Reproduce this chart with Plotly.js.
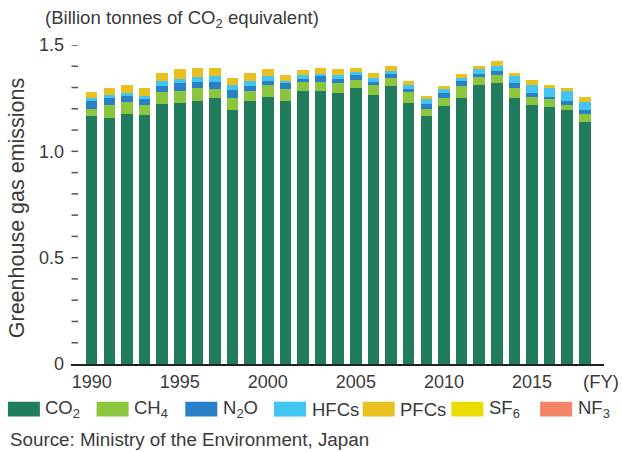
<!DOCTYPE html>
<html>
<head>
<meta charset="utf-8">
<script src="https://cdn.plot.ly/plotly-3.0.1.min.js"></script>
<style>html,body{margin:0;padding:0;background:#fff;}#chart{width:622px;height:452px;}</style>
</head>
<body>
<div id="chart"></div>
<script>
// Fiscal years
const years = [1990,1991,1992,1993,1994,1995,1996,1997,1998,1999,2000,2001,2002,2003,2004,2005,2006,2007,2008,2009,2010,2011,2012,2013,2014,2015,2016,2017,2018];
// Emissions, billion tonnes CO2 equivalent
const co2  = [1.164,1.155,1.174,1.169,1.221,1.225,1.239,1.249,1.193,1.239,1.254,1.239,1.282,1.286,1.272,1.296,1.263,1.305,1.225,1.164,1.211,1.249,1.310,1.319,1.249,1.216,1.207,1.193,1.136];
const ch4  = [0.033,0.061,0.056,0.047,0.056,0.061,0.061,0.042,0.056,0.047,0.056,0.056,0.042,0.038,0.047,0.038,0.047,0.042,0.052,0.033,0.038,0.056,0.038,0.038,0.047,0.038,0.038,0.023,0.038];
const n2o  = [0.042,0.033,0.028,0.028,0.028,0.033,0.028,0.033,0.038,0.019,0.019,0.024,0.014,0.028,0.023,0.024,0.014,0.019,0.014,0.024,0.024,0.024,0.014,0.019,0.024,0.019,0.009,0.023,0.019];
const hfcs = [0.014,0.014,0.014,0.014,0.024,0.023,0.023,0.028,0.024,0.024,0.023,0.014,0.019,0.014,0.019,0.014,0.019,0.014,0.019,0.024,0.019,0.014,0.024,0.024,0.033,0.038,0.042,0.047,0.038];
const pfcs = [0.024,0.033,0.038,0.042,0.038,0.047,0.042,0.038,0.033,0.038,0.033,0.024,0.024,0.024,0.024,0.019,0.024,0.019,0.019,0.014,0.014,0.019,0.014,0.024,0.014,0.023,0.014,0.014,0.023];
const sf6  = years.map(() => 0);
const nf3  = years.map(() => 0);

const seriesNames = ['CO<sub>2</sub>','CH<sub>4</sub>','N<sub>2</sub>O','HFCs','PFCs','SF<sub>6</sub>','NF<sub>3</sub>'];
const seriesData = [co2, ch4, n2o, hfcs, pfcs, sf6, nf3];
const colors = ['#217c5e','#8cc63e','#2a80c6','#42c5f1','#e8c120','#eadc00','#f38467'];

// y tick marks every 0.1, labelled every 0.5
const yMarkVals = [0.1,0.2,0.3,0.4,0.5,0.6,0.7,0.8,0.9,1.0,1.1,1.2,1.3,1.4,1.5];
const yTickVals = [0, 0.5, 1.0, 1.5];
const yTickText = ['0', '0.5', '1.0', '1.5'];
const xTickVals = [1990, 1995, 2000, 2005, 2010, 2015];
const xTickText = ['1990', '1995', '2000', '2005', '2010', '2015'];

const W = 622, H = 452;
const M = {l: 71, r: 18, t: 44.5, b: 88};
const pw = W - M.l - M.r, ph = H - M.t - M.b;
const px2x = p => (p - M.l) / pw;
const py2y = p => (H - M.b - p) / ph;

const textColor = '#3a3a3a';
const fontFam = 'Liberation Sans, Arial, Helvetica, sans-serif';

const traces = seriesData.map((d, i) => ({
  type: 'bar',
  x: years,
  y: d,
  name: seriesNames[i],
  marker: {color: colors[i], line: {width: 0}},
  showlegend: false,
  hoverinfo: 'x+y+name'
}));

const shapes = [];
const annotations = [];
// tick dashes on the y axis, placed through the y scale
yMarkVals.forEach(v => {
  shapes.push({type: 'line', xref: 'paper', yref: 'y',
    x0: px2x(71.5), x1: px2x(78), y0: v, y1: v,
    line: {color: '#555', width: 1.5}});
});
seriesNames.forEach((n, i) => {
  const x0 = 7.9 + i * 88.7;
  shapes.push({type: 'rect', xref: 'paper', yref: 'paper',
    x0: px2x(x0), x1: px2x(x0 + 32), y0: py2y(416.7), y1: py2y(401.7),
    fillcolor: colors[i], line: {width: 0}});
  annotations.push({xref: 'paper', yref: 'paper', x: px2x(x0 + 35.5), y: py2y(409.5),
    xanchor: 'left', yanchor: 'middle', showarrow: false, text: n,
    font: {size: 18.5, color: textColor, family: fontFam}});
});

annotations.push({xref: 'paper', yref: 'paper', x: px2x(43), y: py2y(18),
  xanchor: 'left', yanchor: 'middle', showarrow: false,
  text: '(Billion tonnes of CO<sub>2</sub> equivalent)',
  font: {size: 18.6, color: textColor, family: fontFam}});
annotations.push({xref: 'paper', yref: 'paper', x: px2x(17), y: py2y(208),
  xanchor: 'center', yanchor: 'middle', showarrow: false, textangle: -90,
  text: 'Greenhouse gas emissions',
  font: {size: 21.5, color: textColor, family: fontFam}});
annotations.push({xref: 'paper', yref: 'paper', x: px2x(621), y: py2y(382),
  xanchor: 'right', yanchor: 'middle', showarrow: false, text: '(FY)',
  font: {size: 18.5, color: textColor, family: fontFam}});
annotations.push({xref: 'paper', yref: 'paper', x: px2x(8), y: py2y(440),
  xanchor: 'left', yanchor: 'middle', showarrow: false,
  text: 'Source: Ministry of the Environment, Japan',
  font: {size: 18.8, color: textColor, family: fontFam}});

const layout = {
  width: W, height: H,
  margin: M,
  paper_bgcolor: '#fff', plot_bgcolor: '#fff',
  barmode: 'stack',
  bargap: 0.345,
  showlegend: false,
  font: {family: fontFam, color: textColor, size: 18},
  xaxis: {
    range: [1988.825, 2019.09],
    tickvals: xTickVals, ticktext: xTickText,
    ticks: '', showgrid: false, zeroline: false,
    showline: true, linecolor: '#222', linewidth: 2,
    tickfont: {size: 18, color: textColor, family: fontFam},
    fixedrange: true
  },
  yaxis: {
    range: [0, 1.5],
    tickvals: yTickVals, ticktext: yTickText,
    ticks: '', ticklabelstandoff: 6,
    showgrid: false, zeroline: false, showline: false,
    tickfont: {size: 18, color: textColor, family: fontFam},
    fixedrange: true
  },
  shapes: shapes,
  annotations: annotations
};

Plotly.newPlot('chart', traces, layout, {displayModeBar: false, staticPlot: true});
</script>
</body>
</html>
